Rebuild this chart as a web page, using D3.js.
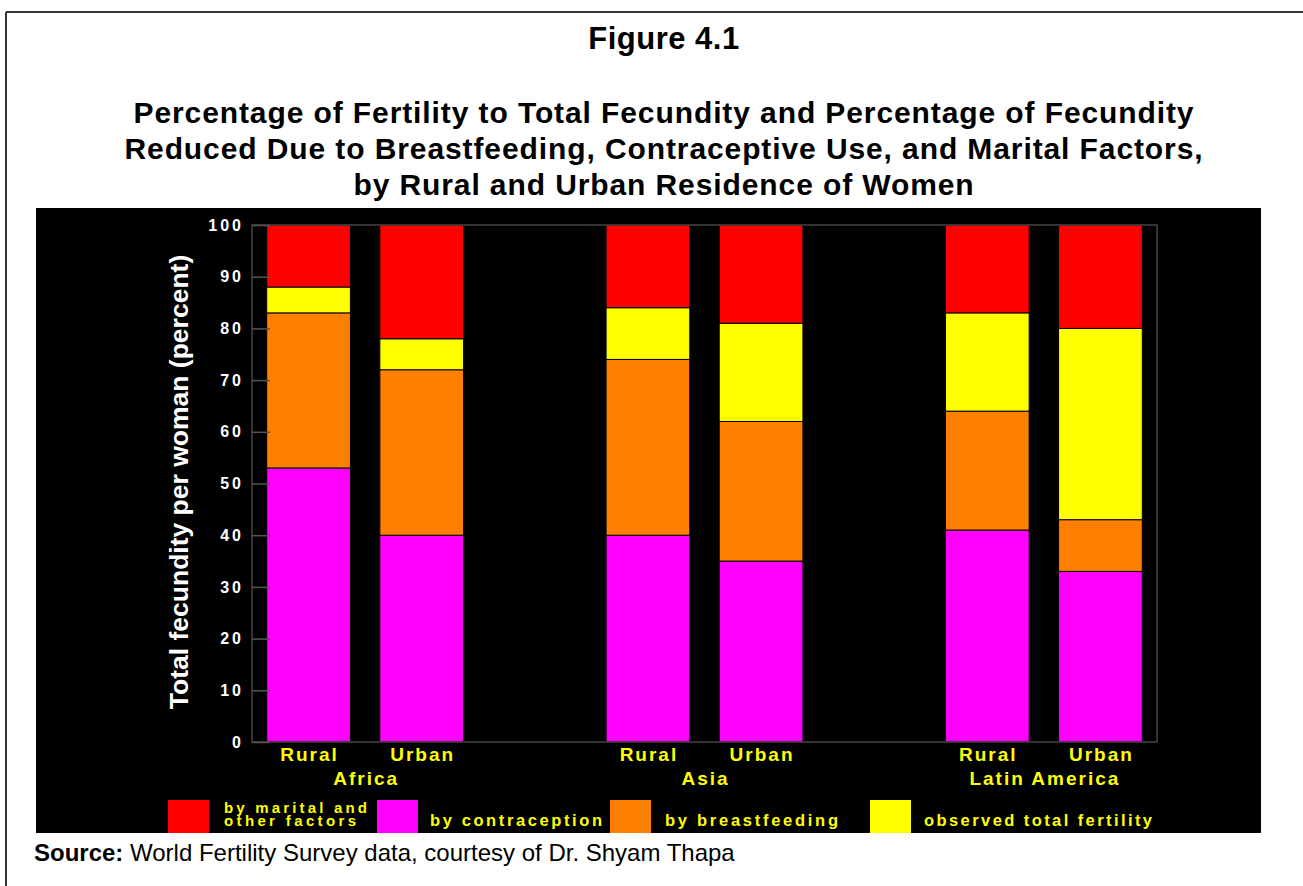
<!DOCTYPE html>
<html>
<head>
<meta charset="utf-8">
<script src="https://cdn.jsdelivr.net/npm/d3@7"></script>
<style>
  body { margin: 0; background: #fff; }
  svg { display: block; font-family: Arial, "Liberation Sans", Helvetica, sans-serif; }
</style>
</head>
<body>
<div id="content"></div>
<script>

//data (percent of total fecundity)
var groups = ["Africa", "Asia", "Latin America"];
var residences = ["Rural", "Urban"];
var contraception = [53, 40, 40, 35, 41, 33];
var breastfeeding = [30, 32, 34, 27, 23, 10];
var observed = [5, 6, 10, 19, 19, 37];
var marital = [12, 22, 16, 19, 17, 20];
var yTicks = [0, 10, 20, 30, 40, 50, 60, 70, 80, 90, 100];

var seriesKeys = ["contraception", "breastfeeding", "observed", "marital"];
var seriesColors = {contraception: "#ff00ff", breastfeeding: "#ff8000", observed: "#ffff00", marital: "#ff0000"};
var legendOrder = ["marital", "contraception", "breastfeeding", "observed"];
var legendLabels = {
	marital: ["by marital and", "other factors"],
	contraception: ["by contraception"],
	breastfeeding: ["by breastfeeding"],
	observed: ["observed total fertility"]
};

//build rows for the stack, one per bar
var rows = [];
groups.forEach(function(g, gi){
	residences.forEach(function(r, ri){
		var i = gi * 2 + ri;
		rows.push({slot: g + "|" + r, group: g, res: r,
			contraception: contraception[i], breastfeeding: breastfeeding[i],
			observed: observed[i], marital: marital[i]});
	});
});

//slots incl. the empty gaps between regions
var slots = [];
groups.forEach(function(g, gi){
	residences.forEach(function(r){ slots.push(g + "|" + r); });
	if(gi < groups.length - 1) slots.push("gap" + gi);
});

var W = 1303, H = 886;
var svg = d3.select("#content").append("svg:svg")
	.attr("width", W)
	.attr("height", H);

//outer frame lines
svg.append("line").attr("x1", 6).attr("y1", 12).attr("x2", W).attr("y2", 12)
	.style("stroke", "#333").style("stroke-width", 2);
svg.append("line").attr("x1", 6).attr("y1", 12).attr("x2", 6).attr("y2", H)
	.style("stroke", "#333").style("stroke-width", 2);

//titles
svg.append("text")
	.attr("x", 664).attr("y", 49)
	.attr("text-anchor", "middle")
	.style("font-size", "31px").style("font-weight", "bold")
	.style("letter-spacing", "0.5px")
	.text("Figure 4.1");

var titleLines = ["Percentage of Fertility to Total Fecundity and Percentage of Fecundity",
	"Reduced Due to Breastfeeding, Contraceptive Use, and Marital Factors,",
	"by Rural and Urban Residence of Women"];
svg.selectAll(".title").data(titleLines).enter().append("text")
	.attr("class", "title")
	.attr("x", 664)
	.attr("y", function(d, i){ return 123 + i * 36; })
	.attr("text-anchor", "middle")
	.style("font-size", "30px").style("font-weight", "bold")
	.style("letter-spacing", "0.9px")
	.text(function(d){ return d; });

//black chart panel
svg.append("rect")
	.attr("x", 36).attr("y", 208)
	.attr("width", 1225).attr("height", 625)
	.style("fill", "#000");

var plot = {left: 252, right: 1157, top: 225, bottom: 742};

var x = d3.scaleBand()
	.domain(slots)
	.range([plot.left, plot.right])
	.paddingInner(0.26)
	.paddingOuter(0.13);

var y = d3.scaleLinear()
	.domain([0, 100])
	.range([plot.bottom, plot.top]);

var stack = d3.stack().keys(seriesKeys);
var layers = stack(rows);

//stacked bars
svg.append("g").selectAll("g")
	.data(layers)
	.enter().append("g")
	.style("fill", function(d){ return seriesColors[d.key]; })
	.selectAll("rect")
	.data(function(d){ return d; })
	.enter().append("rect")
	.attr("x", function(d){ return x(d.data.slot); })
	.attr("width", x.bandwidth())
	.attr("y", function(d){ return y(d[1]); })
	.attr("height", function(d){ return y(d[0]) - y(d[1]); })
	.style("stroke", "#000")
	.style("stroke-width", 1);

//plot frame (grey)
svg.append("rect")
	.attr("x", plot.left).attr("y", plot.top)
	.attr("width", plot.right - plot.left).attr("height", plot.bottom - plot.top)
	.style("fill", "none")
	.style("stroke", "#444")
	.style("stroke-width", 1.5);

//y axis with inside ticks
var yAxis = svg.append("g")
	.attr("transform", "translate(" + plot.left + ",0)")
	.call(d3.axisLeft(y).tickValues(yTicks).tickSize(-18).tickPadding(8));
yAxis.select(".domain").remove();
yAxis.selectAll("line").style("stroke", "#555").style("stroke-width", 1.5);
yAxis.selectAll("text")
	.style("fill", "#fff")
	.style("font-size", "16px")
	.style("font-weight", "bold")
	.style("letter-spacing", "3px")
	.style("font-family", "Arial, 'Liberation Sans', sans-serif");

//y axis title
svg.append("text")
	.attr("transform", "translate(188,482) rotate(-90)")
	.attr("text-anchor", "middle")
	.style("fill", "#fff")
	.style("font-size", "26.5px")
	.style("font-weight", "bold")
	.text("Total fecundity per woman (percent)");

//x labels: residence and region
svg.selectAll(".reslabel").data(rows).enter().append("text")
	.attr("class", "reslabel")
	.attr("x", function(d){ return x(d.slot) + x.bandwidth() / 2 + 1; })
	.attr("y", 761)
	.attr("text-anchor", "middle")
	.style("fill", "#ffff00")
	.style("font-size", "19px").style("font-weight", "bold")
	.style("letter-spacing", "2px")
	.text(function(d){ return d.res; });

svg.selectAll(".grouplabel").data(groups).enter().append("text")
	.attr("class", "grouplabel")
	.attr("x", function(g){
		var a = x(g + "|Rural"), b = x(g + "|Urban") + x.bandwidth();
		return (a + b) / 2 + 1;
	})
	.attr("y", 785)
	.attr("text-anchor", "middle")
	.style("fill", "#ffff00")
	.style("font-size", "19px").style("font-weight", "bold")
	.style("letter-spacing", "2px")
	.text(function(d){ return d; });

//legend
var legendPos = {
	marital: {sx: 168, tx: 224, tw: [143, 132]},
	contraception: {sx: 377, tx: 430, tw: [172]},
	breastfeeding: {sx: 610, tx: 665, tw: [173]},
	observed: {sx: 870, tx: 924, tw: [228]}
};
var legend = svg.append("g").selectAll("g")
	.data(legendOrder)
	.enter().append("g");

legend.append("rect")
	.attr("x", function(d){ return legendPos[d].sx; })
	.attr("y", 800)
	.attr("width", 41).attr("height", 33)
	.style("fill", function(d){ return seriesColors[d]; });

legend.each(function(k){
	var lines = legendLabels[k];
	var g = d3.select(this);
	lines.forEach(function(line, i){
		g.append("text")
			.attr("x", legendPos[k].tx)
			.attr("y", 826 - (lines.length - 1 - i) * 13.5)
			.attr("textLength", legendPos[k].tw[i])
			.attr("lengthAdjust", "spacing")
			.style("fill", "#ffff00")
			.style("font-size", lines.length > 1 ? "15px" : "16.5px")
			.style("font-weight", "bold")
			.text(line);
	});
});

//source line
var src = svg.append("text")
	.attr("x", 34).attr("y", 861)
	.style("font-size", "24px");
src.append("tspan").style("font-weight", "bold").text("Source:");
src.append("tspan").text(" World Fertility Survey data, courtesy of Dr. Shyam Thapa");

</script>
</body>
</html>
